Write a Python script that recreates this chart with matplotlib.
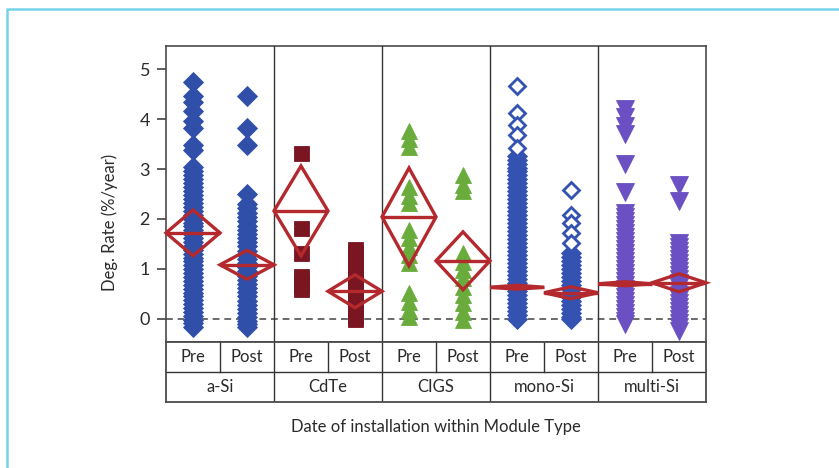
import matplotlib
matplotlib.use("Agg")
import matplotlib.pyplot as plt
from matplotlib.lines import Line2D
from matplotlib.patches import Polygon

plt.rcParams['font.family'] = ['Lato', 'DejaVu Sans']

# ---- data: degradation rates (%/year) by module type and install period ----
module_types = ["a-Si", "CdTe", "CIGS", "mono-Si", "multi-Si"]
periods = ["Pre", "Post"]
y_ticks = [0, 1, 2, 3, 4, 5]

asi_pre = [4.74, 4.46, 4.35, 4.17, 3.97, 3.83, 3.48, 3.38, 3.05,
           2.95, 2.87, 2.80, 2.72, 2.63, 2.55, 2.48, 2.40, 2.31, 2.24,
           2.16, 2.08, 2.00, 1.92, 1.85, 1.77, 1.69, 1.61, 1.53, 1.46,
           1.38, 1.30, 1.22, 1.15, 1.07, 0.99, 0.91, 0.84, 0.76, 0.68,
           0.60, 0.52, 0.45, 0.37, 0.29, 0.21, 0.14, 0.06, -0.02, -0.09,
           -0.17]
asi_post = [4.46, 3.82, 3.48, 2.50, 2.30, 2.22, 2.12, 2.03, 1.95, 1.86,
            1.78, 1.70, 1.61, 1.53, 1.45, 1.36, 1.28, 1.20, 1.11, 1.03,
            0.95, 0.86, 0.78, 0.70, 0.61, 0.53, 0.45, 0.36, 0.28, 0.20,
            0.11, 0.03, -0.05, -0.11, -0.17]
cdte_pre = [3.33, 1.81, 1.31, 0.86, 0.77, 0.68, 0.59]
cdte_post = [1.40, 1.32, 1.24, 1.16, 1.08, 1.00, 0.92, 0.84, 0.76, 0.68,
             0.60, 0.52, 0.44, 0.36, 0.28, 0.20, 0.12, 0.05, -0.01]
cigs_pre = [3.77, 3.61, 3.45, 2.63, 2.45, 2.31, 1.78, 1.61, 1.44, 1.28,
            1.11, 0.51, 0.34, 0.17, 0.04]
cigs_post = [2.88, 2.68, 2.55, 1.31, 1.14, 0.98, 0.81, 0.64, 0.47, 0.31,
             0.14, -0.03]
mono_pre_sparse = [4.66, 4.12, 3.88, 3.68, 3.43]
mono_pre = [3.27, 3.19, 3.11, 3.03, 2.95, 2.87, 2.79, 2.71, 2.63, 2.55,
            2.47, 2.39, 2.31, 2.23, 2.15, 2.07, 1.99, 1.91, 1.83, 1.75,
            1.67, 1.59, 1.51, 1.43, 1.35, 1.27, 1.19, 1.11, 1.03, 0.95,
            0.87, 0.79, 0.71, 0.63, 0.55, 0.47, 0.39, 0.31, 0.23, 0.15,
            0.07, -0.01]
mono_post_sparse = [2.57, 2.08, 1.91, 1.71, 1.52]
mono_post = [1.31, 1.23, 1.15, 1.07, 0.99, 0.91, 0.83, 0.75, 0.67, 0.59,
             0.51, 0.43, 0.35, 0.27, 0.19, 0.11, 0.04, -0.01]
multi_pre = [4.20, 4.04, 3.87, 3.70, 3.11, 2.54, 2.12, 2.04, 1.96, 1.88,
             1.80, 1.72, 1.64, 1.56, 1.48, 1.40, 1.32, 1.24, 1.16, 1.08,
             1.00, 0.92, 0.84, 0.76, 0.68, 0.60, 0.52, 0.44, 0.36, 0.28,
             0.20, 0.12, 0.04, -0.04, -0.11]
multi_post = [2.68, 2.35, 1.51, 1.43, 1.35, 1.27, 1.19, 1.11, 1.03, 0.95,
              0.87, 0.79, 0.71, 0.63, 0.55, 0.47, 0.39, 0.31, 0.23, 0.15,
              0.07, -0.01, -0.09, -0.17, -0.24]

# group means and half-heights of the means diamonds (Pre, Post per type)
group_means = [1.72, 1.08, 2.16, 0.55, 2.04, 1.16, 0.63, 0.52, 0.70, 0.72]
group_halfwidth = [0.46, 0.29, 0.90, 0.33, 0.98, 0.58, 0.04, 0.12, 0.04, 0.18]

# ---- styling ----
W, H, DPI = 839, 468, 100
blue = "#2f4fa8"
mono_blue = "#3452b2"
darkred = "#7a1522"
green = "#6aac3c"
purple = "#6a50c2"
diamond_red = "#b3292d"
frame_col = "#4a4a4a"
text_col = "#2b2b2b"

fig = plt.figure(figsize=(W / DPI, H / DPI), dpi=DPI)
fig.patch.set_facecolor("white")


def fx(px):
    return px / W


def fy(py):
    return 1 - py / H


ax = fig.add_axes([fx(166), fy(342), fx(706) - fx(166), fy(46) - fy(342)])
ax.set_xlim(0, 10)
ax.set_ylim(-0.467, 5.465)

series = [
    (asi_pre, 0.5, "D", 10.4, blue),
    (asi_post, 1.5, "D", 10.4, blue),
    (cdte_pre, 2.5, "s", 10.8, darkred),
    (cdte_post, 3.5, "s", 10.8, darkred),
    (cigs_pre, 4.5, "^", 12.0, green),
    (cigs_post, 5.5, "^", 12.0, green),
    (mono_pre, 6.5, "D", 10.0, mono_blue),
    (mono_post, 7.5, "D", 10.0, mono_blue),
    (multi_pre, 8.5, "v", 12.8, purple),
    (multi_post, 9.5, "v", 12.8, purple),
]
for vals, xpos, mk, ms, col in series:
    ax.plot([xpos] * len(vals), vals, linestyle="none", marker=mk,
            markersize=ms, markerfacecolor=col, markeredgecolor=col,
            markeredgewidth=0.6, zorder=3)

for vals, xpos in [(mono_pre_sparse, 6.5), (mono_post_sparse, 7.5)]:
    ax.plot([xpos] * len(vals), vals, linestyle="none", marker="D",
            markersize=8.4, markerfacecolor="white",
            markeredgecolor=mono_blue, markeredgewidth=2.0, zorder=3)

# zero reference line
ax.axhline(0, color="#6a6a6a", linestyle=(0, (3.5, 2.5)), linewidth=1.4,
           zorder=2)

# means diamonds
for i, (m, h) in enumerate(zip(group_means, group_halfwidth)):
    x0, x1 = i, i + 1
    xc = i + 0.5
    poly = Polygon([(x0, m), (xc, m + h), (x1, m), (xc, m - h)], closed=True,
                   fill=False, edgecolor=diamond_red, linewidth=2.4,
                   joinstyle="miter", zorder=5, clip_on=False)
    ax.add_patch(poly)
    ax.plot([x0, x1], [m, m], color=diamond_red, linewidth=2.4, zorder=5,
            solid_capstyle="butt")

# panel dividers
for xv in [2, 4, 6, 8]:
    ax.axvline(xv, color="#333333", linewidth=1.0, zorder=4)

ax.set_xticks([])
ax.set_yticks(y_ticks)
ax.set_yticklabels([str(t) for t in y_ticks], fontsize=13, color=text_col)
ax.tick_params(axis="y", length=6.5, width=1.1, color="#333333", pad=5)
for sp in ax.spines.values():
    sp.set_color(frame_col)
    sp.set_linewidth(1.2)

# category table beneath the plot
tab = fig.add_axes([fx(166), fy(402), fx(706) - fx(166), fy(342) - fy(402)])
tab.set_xlim(0, 10)
tab.set_ylim(0, 2)
tab.set_xticks([])
tab.set_yticks([])
for sp in tab.spines.values():
    sp.set_color(frame_col)
    sp.set_linewidth(1.3)
tab.plot([0, 10], [1, 1], color="#333333", linewidth=1.0)
for k in range(1, 10):
    ymin = 1 if k % 2 else 0
    tab.plot([k, k], [ymin, 2], color="#333333", linewidth=1.0)
for i in range(10):
    tab.text(i + 0.5, 1.5, periods[i % 2], ha="center", va="center",
             fontsize=12, color=text_col)
for j, name in enumerate(module_types):
    tab.text(2 * j + 1, 0.5, name, ha="center", va="center",
             fontsize=12, color=text_col)

fig.text(fx(110), fy(222), "Deg. Rate (%/year)", rotation=90,
         ha="center", va="center", fontsize=12, color=text_col)
fig.text(fx(436), fy(427), "Date of installation within Module Type",
         ha="center", va="center", fontsize=12, color=text_col)

# light cyan page frame
fig.add_artist(Line2D([fx(6.5), fx(6.5), fx(839)], [fy(468), fy(8.5), fy(8.5)],
                      color="#74d4ea", linewidth=1.8,
                      transform=fig.transFigure))

fig.savefig("out.png", dpi=DPI)
